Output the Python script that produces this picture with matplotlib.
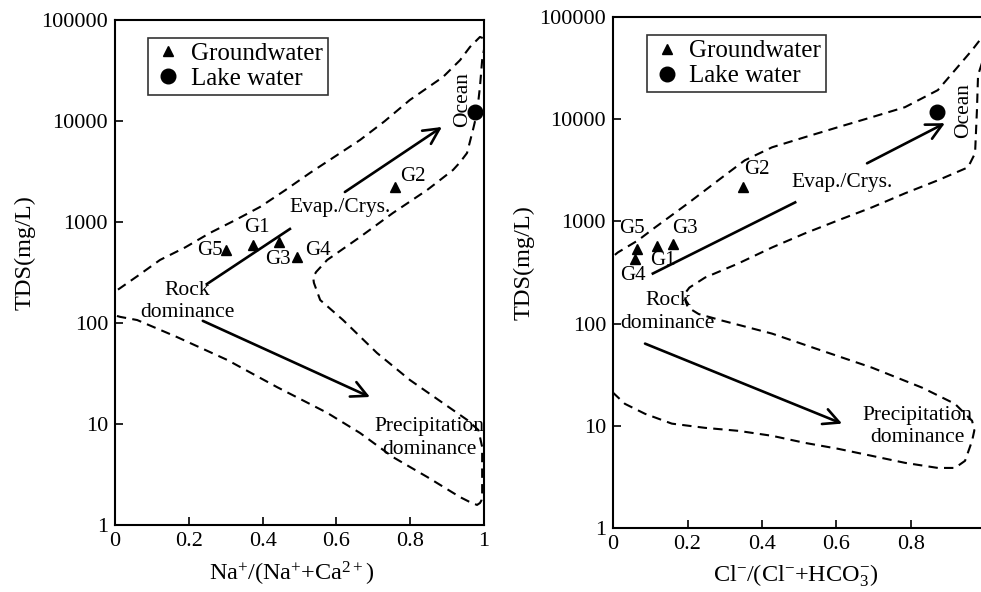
import numpy as np
import matplotlib
matplotlib.use("Agg")
import matplotlib.pyplot as plt
from matplotlib.ticker import NullLocator

plt.rcParams["font.family"] = ["Liberation Serif", "DejaVu Serif"]
plt.rcParams["mathtext.fontset"] = "custom"
plt.rcParams["mathtext.rm"] = "Liberation Serif"
plt.rcParams["mathtext.it"] = "Liberation Serif:italic"

# sample names
samples = ["G1", "G2", "G3", "G4", "G5"]

# Na+/(Na+ + Ca2+) panel
na_ratio = [0.374, 0.759, 0.444, 0.493, 0.301]
na_tds = [592, 2220, 634, 450, 528]
na_lake_ratio = [0.976]
na_lake_tds = [12270]

# Cl-/(Cl- + HCO3-) panel
cl_ratio = [0.118, 0.349, 0.161, 0.059, 0.064]
cl_tds = [569, 2150, 596, 424, 531]
cl_lake_ratio = [0.870]
cl_lake_tds = [11720]

# Gibbs boundary (dashed envelope)
na_env_x = [0.008, 0.06, 0.122, 0.19, 0.257, 0.325, 0.393, 0.46, 0.528, 0.596,
            0.664, 0.73, 0.799, 0.889, 0.935, 0.962, 0.989, 0.998, 1.002, 0.995,
            0.989, 0.981, 0.970, 0.954, 0.935, 0.916, 0.846, 0.753, 0.664, 0.575,
            0.545, 0.537, 0.539, 0.556, 0.618, 0.710, 0.799, 0.889, 0.954, 0.985,
            0.995, 0.995, 0.993, 0.989, 0.981, 0.960, 0.935, 0.846, 0.753, 0.664,
            0.575, 0.439, 0.304, 0.168, 0.060, 0.014, -0.01]
na_env_tds = [214, 290, 421, 560, 778, 1040, 1409, 2050, 3055, 4450,
              6486, 9900, 16140, 27290, 40000, 54080, 67920, 66000, 56000, 40000,
              21730, 11990, 8147, 4819, 3900, 3273, 2075, 1227, 710, 421,
              320, 285, 250, 169, 107, 50.5, 27.3, 16.1, 11.0, 8.7,
              5.92, 2.07, 1.75, 1.65, 1.58, 1.70, 1.89, 2.99, 4.71, 8.15,
              12.9, 23.2, 43.1, 72.6, 107, 115, 122]

cl_env_x = [0.005, 0.013, 0.067, 0.113, 0.201, 0.293, 0.354, 0.427, 0.515, 0.604,
            0.695, 0.784, 0.872, 0.918, 0.964, 0.985, 1.005, 1.004, 0.993, 0.980,
            0.977, 0.972, 0.953, 0.872, 0.784, 0.695, 0.604, 0.515, 0.427, 0.336,
            0.247, 0.205, 0.193, 0.195, 0.201, 0.230, 0.293, 0.427, 0.561, 0.695,
            0.830, 0.918, 0.964, 0.970, 0.964, 0.945, 0.918, 0.872, 0.784, 0.695,
            0.604, 0.515, 0.427, 0.336, 0.247, 0.158, 0.086, 0.032, 0.0, -0.01]
cl_env_tds = [470, 497, 652, 873, 1500, 2698, 3963, 5309, 6668, 8350,
              10470, 13120, 19250, 30200, 47430, 59570, 66000, 50000, 37840, 26980,
              12250, 4645, 3381, 2523, 1884, 1371, 1023, 763, 556, 387,
              282, 225, 197, 165, 144, 124, 107, 79.8, 54.3, 37.1,
              23.6, 16.4, 11.2, 9.0, 7.13, 4.54, 3.87, 3.87, 4.34, 5.08,
              5.96, 6.81, 7.98, 8.93, 9.55, 10.5, 13.1, 16.4, 21.1, 23.0]

# trend arrows: (x0, tds0, x1, tds1)
na_evap_line = [0.249, 243, 0.474, 853]
na_evap_arrow = [0.623, 1982, 0.886, 8730]
na_precip_arrow = [0.238, 105, 0.691, 18.5]
cl_evap_line = [0.107, 309, 0.489, 1535]
cl_evap_arrow = [0.682, 3703, 0.891, 9140]
cl_precip_arrow = [0.086, 63.7, 0.615, 10.5]

yticks = [1, 10, 100, 1000, 10000, 100000]
ytick_labels = ["1", "10", "100", "1000", "10000", "100000"]
xticks = [0, 0.2, 0.4, 0.6, 0.8, 1.0]
xtick_labels = ["0", "0.2", "0.4", "0.6", "0.8", "1"]

fig = plt.figure(figsize=(9.81, 5.92), dpi=100)
ax1 = fig.add_axes([115 / 981, 1 - 525 / 592, 369 / 981, 505 / 592])
ax2 = fig.add_axes([613 / 981, 1 - 528 / 592, 372.5 / 981, 511 / 592])

dash = (0, (4.5, 3))
arrow_kw = dict(arrowstyle="->,head_length=0.75,head_width=0.38",
                lw=1.9, color="black", shrinkA=0, shrinkB=0, mutation_scale=15)


def setup_axes(ax, xlabel, nticks, ylab_xy, xlab_xy):
    ax.set_yscale("log")
    ax.set_xlim(0, 1)
    ax.set_ylim(1, 100000)
    ax.set_yticks(yticks)
    ax.set_yticklabels(ytick_labels)
    ax.yaxis.set_minor_locator(NullLocator())
    ax.set_xticks(xticks[:nticks])
    ax.set_xticklabels(xtick_labels[:nticks])
    ax.tick_params(direction="in", length=6, width=1.2, labelsize=16, pad=5)
    for s in ax.spines.values():
        s.set_linewidth(1.5)
    ax.set_ylabel("TDS(mg/L)", fontsize=17.5)
    ax.yaxis.set_label_coords(*ylab_xy)
    ax.set_xlabel(xlabel, fontsize=17.5)
    ax.xaxis.set_label_coords(*xlab_xy)


def draw_panel(ax, env_x, env_tds, gx, gtds, lx, ltds, line, arrow, parrow):
    ax.plot(env_x, env_tds, color="black", lw=1.5, linestyle=dash)
    ax.plot(gx, gtds, "^", color="black", markersize=7.5, label="Groundwater")
    ax.plot(lx, ltds, "o", color="black", markersize=10.5, label="Lake water")
    ax.plot([line[0], line[2]], [line[1], line[3]], color="black", lw=1.9)
    ax.annotate("", xy=(arrow[2], arrow[3]), xytext=(arrow[0], arrow[1]),
                arrowprops=arrow_kw)
    ax.annotate("", xy=(parrow[2], parrow[3]), xytext=(parrow[0], parrow[1]),
                arrowprops=arrow_kw)
    leg = ax.legend(loc="upper left", bbox_to_anchor=(0.09, 0.965), fontsize=18,
                    frameon=True, fancybox=False, edgecolor="black",
                    handletextpad=0.3, borderpad=0.2, labelspacing=0.1,
                    handlelength=1.2, borderaxespad=0)
    leg.get_frame().set_linewidth(1.2)


setup_axes(ax1, r"Na$^{+}$/(Na$^{+}$+Ca$^{2+}$)", 6, (-0.215, 0.54), (0.48, -0.07))
draw_panel(ax1, na_env_x, na_env_tds, na_ratio, na_tds, na_lake_ratio, na_lake_tds,
           na_evap_line, na_evap_arrow, na_precip_arrow)
lab1 = {"G1": (0.385, 873), "G2": (0.808, 2790), "G3": (0.442, 430),
        "G4": (0.550, 528), "G5": (0.257, 528)}
for name in samples:
    ax1.text(*lab1[name], name, fontsize=15, ha="center", va="center")
ax1.text(0.610, 1377, "Evap./Crys.", fontsize=15.5, ha="center", va="center")
ax1.text(0.943, 16140, "Ocean", fontsize=15.5, ha="center", va="center", rotation=90)
ax1.text(0.197, 163, "Rock\ndominance", fontsize=15.5, ha="center", va="center",
         linespacing=1.25)
ax1.text(0.852, 7.3, "Precipitation\ndominance", fontsize=15.5, ha="center",
         va="center", linespacing=1.25)

setup_axes(ax2, r"Cl$^{-}$/(Cl$^{-}$+HCO$_{3}^{-}$)", 5, (-0.21, 0.52), (0.49, -0.068))
ax2.spines["right"].set_visible(False)
draw_panel(ax2, cl_env_x, cl_env_tds, cl_ratio, cl_tds, cl_lake_ratio, cl_lake_tds,
           cl_evap_line, cl_evap_arrow, cl_precip_arrow)
lab2 = {"G1": (0.134, 415), "G2": (0.387, 3236), "G3": (0.193, 853),
        "G4": (0.054, 296), "G5": (0.051, 853)}
for name in samples:
    ax2.text(*lab2[name], name, fontsize=15, ha="center", va="center")
ax2.text(0.615, 2410, "Evap./Crys.", fontsize=15.5, ha="center", va="center")
ax2.text(0.940, 12250, "Ocean", fontsize=15.5, ha="center", va="center", rotation=90)
ax2.text(0.147, 130, "Rock\ndominance", fontsize=15.5, ha="center", va="center",
         linespacing=1.25)
ax2.text(0.817, 9.8, "Precipitation\ndominance", fontsize=15.5, ha="center",
         va="center", linespacing=1.25)

fig.savefig("out.png", dpi=100)
